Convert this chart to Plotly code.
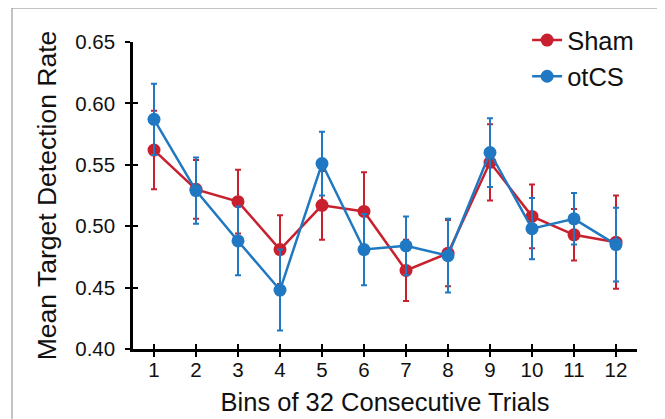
import plotly.graph_objects as go

bins = list(range(1, 13))
sham_mean = [0.562, 0.530, 0.520, 0.481, 0.517, 0.512, 0.464, 0.478, 0.552, 0.508, 0.493, 0.487]
sham_err = [0.032, 0.024, 0.026, 0.028, 0.028, 0.032, 0.025, 0.027, 0.031, 0.026, 0.021, 0.038]
otcs_mean = [0.587, 0.529, 0.488, 0.448, 0.551, 0.481, 0.484, 0.476, 0.560, 0.498, 0.506, 0.485]
otcs_err = [0.029, 0.027, 0.028, 0.033, 0.026, 0.029, 0.024, 0.030, 0.028, 0.025, 0.021, 0.030]
y_ticks = [0.40, 0.45, 0.50, 0.55, 0.60, 0.65]

RED = "#C8202F"
BLUE = "#1F78C1"
FONT = "Liberation Sans, Arial, sans-serif"

fig = go.Figure()
fig.add_trace(go.Scatter(
    x=bins, y=sham_mean, name="Sham", mode="lines+markers",
    line=dict(color=RED, width=2.5), marker=dict(color=RED, size=13),
    error_y=dict(type="data", array=sham_err, color=RED, thickness=2, width=3),
))
fig.add_trace(go.Scatter(
    x=bins, y=otcs_mean, name="otCS", mode="lines+markers",
    line=dict(color=BLUE, width=2.5), marker=dict(color=BLUE, size=13),
    error_y=dict(type="data", array=otcs_err, color=BLUE, thickness=2, width=3),
))
# invisible trace to activate overlay axes for inside ticks
fig.add_trace(go.Scatter(x=[None], y=[None], xaxis="x2", yaxis="y2", showlegend=False, hoverinfo="skip"))

axis_common = dict(showgrid=False, zeroline=False, ticklen=5, tickwidth=2, tickcolor="black", automargin=False)
fig.update_layout(
    width=657, height=411,
    margin=dict(l=125, r=28, t=34, b=70, autoexpand=False),
    paper_bgcolor="white", plot_bgcolor="white",
    font=dict(family=FONT, color="#111"),
    xaxis=dict(range=[0.5, 12.5], tickvals=bins, ticks="outside", showline=True, linecolor="black",
               linewidth=2.5, tickfont=dict(size=20.5), ticklabelstandoff=-4,
               title=dict(text="Bins of 32 Consecutive Trials", font=dict(size=25.5), standoff=13),
               **axis_common),
    yaxis=dict(range=[0.40, 0.65], tickvals=y_ticks, tickformat=".2f", ticks="outside", showline=True,
               linecolor="black", linewidth=2.5, tickfont=dict(size=20.5), ticklabelstandoff=6,
               title=dict(text="Mean Target Detection Rate", font=dict(size=26.5), standoff=11),
               **axis_common),
    xaxis2=dict(range=[0.5, 12.5], tickvals=bins, ticks="inside", showticklabels=False, overlaying="x",
                showline=False, **axis_common),
    yaxis2=dict(range=[0.40, 0.65], tickvals=y_ticks, ticks="inside", showticklabels=False, overlaying="y",
                showline=False, **axis_common),
    legend=dict(x=0.782, y=1 - 9 / 411, xref="paper", yref="container", xanchor="left", yanchor="top",
                font=dict(size=25.5), bgcolor="rgba(0,0,0,0)", tracegroupgap=0, itemwidth=30),
    showlegend=True,
    shapes=[
        dict(type="line", xref="paper", yref="paper", x0=-0.2401, x1=1.2, y0=1.1107, y1=1.1107,
             line=dict(color="#888", width=1)),
        dict(type="line", xref="paper", yref="paper", x0=-0.2401, x1=-0.2401, y0=1.1107, y1=-0.3,
             line=dict(color="#888", width=1)),
    ],
)

fig.write_html("out.html")
